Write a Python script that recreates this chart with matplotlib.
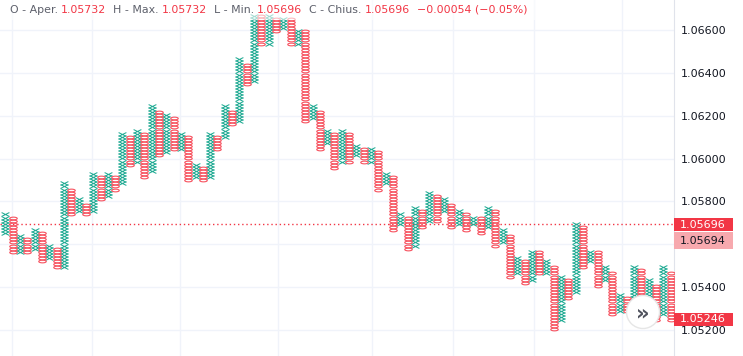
import numpy as np
import matplotlib
matplotlib.use("Agg")
import matplotlib.pyplot as plt
from matplotlib.path import Path
from matplotlib.patches import Rectangle, Ellipse

# point & figure columns, X/O alternating
box = 0.000145
col_kind = "XOXOXOXOXOXOXOXOXOXOXOXOXOXOXOXOXOXOXOXOXOXOXOXOXOXOXOXOXOXOXOXOXOXOXOXOXOXOXOXOXOXOXOXOXOXO"
col_top = [1.0574, 1.0572, 1.0564, 1.0563, 1.0567, 1.0565, 1.0559, 1.0558, 1.0588, 1.0586,
           1.0581, 1.0579, 1.0593, 1.0592, 1.0593, 1.0592, 1.0612, 1.0610, 1.0613, 1.0612,
           1.0624, 1.0622, 1.0620, 1.0619, 1.0612, 1.0610, 1.0597, 1.0596, 1.0612, 1.0610,
           1.0624, 1.0622, 1.0646, 1.0644, 1.0667, 1.0667, 1.0667, 1.0666, 1.0666, 1.0666,
           1.0660, 1.0659, 1.0624, 1.0622, 1.0613, 1.0612, 1.0613, 1.0612, 1.0606, 1.0605,
           1.0605, 1.0603, 1.0593, 1.0592, 1.0574, 1.0573, 1.0577, 1.0576, 1.0584, 1.0583,
           1.0581, 1.0579, 1.0575, 1.0574, 1.0573, 1.0572, 1.0577, 1.0575, 1.0566, 1.0564,
           1.0554, 1.0552, 1.0557, 1.0556, 1.0552, 1.0550, 1.0545, 1.0543, 1.0570, 1.0568,
           1.0557, 1.0556, 1.0549, 1.0547, 1.0536, 1.0535, 1.0550, 1.0548, 1.0543, 1.0541,
           1.0549, 1.0547]
col_bot = [1.0565, 1.0556, 1.0557, 1.0556, 1.0558, 1.0552, 1.0554, 1.0549, 1.0550, 1.0574,
           1.0576, 1.0574, 1.0576, 1.0581, 1.0583, 1.0585, 1.0588, 1.0597, 1.0599, 1.0591,
           1.0594, 1.0601, 1.0603, 1.0604, 1.0605, 1.0590, 1.0591, 1.0590, 1.0591, 1.0605,
           1.0610, 1.0616, 1.0617, 1.0635, 1.0637, 1.0654, 1.0654, 1.0660, 1.0661, 1.0653,
           1.0654, 1.0617, 1.0619, 1.0605, 1.0608, 1.0596, 1.0598, 1.0599, 1.0601, 1.0598,
           1.0599, 1.0586, 1.0589, 1.0567, 1.0570, 1.0558, 1.0559, 1.0568, 1.0571, 1.0571,
           1.0575, 1.0568, 1.0570, 1.0567, 1.0569, 1.0565, 1.0568, 1.0560, 1.0561, 1.0545,
           1.0546, 1.0542, 1.0543, 1.0546, 1.0547, 1.0521, 1.0524, 1.0535, 1.0538, 1.0550,
           1.0552, 1.0541, 1.0543, 1.0527, 1.0529, 1.0529, 1.0530, 1.0530, 1.0531, 1.0525,
           1.0527, 1.0525]

price_ticks = [1.052, 1.054, 1.056, 1.058, 1.060, 1.062, 1.064, 1.066]
grid_cols = [0.9, 11.8, 23.9, 37.3, 50.1, 61.2, 72.3, 84.3]
last_price = 1.05696
header = [("O - Aper.", "lab"), ("1.05732", "val"), ("H - Max.", "lab"), ("1.05732", "val"),
          ("L - Min.", "lab"), ("1.05696", "val"), ("C - Chius.", "lab"), ("1.05696", "val"),
          ("\u22120.00054 (\u22120.05%)", "val")]

up_col = "#22ab94"
dn_col = "#f7525f"
red = "#f23645"

# snap every column to one common box grid
base = 1.0500
xs_x, ys_x, xs_o, ys_o = [], [], [], []
for i, (k, t, b) in enumerate(zip(col_kind, col_top, col_bot)):
    lo = int(round((b - base) / box))
    hi = int(round((t - base) / box))
    lv = base + box * np.arange(lo, hi + 1)
    if k == "X":
        xs_x += [i] * len(lv)
        ys_x += list(lv)
    else:
        xs_o += [i] * len(lv)
        ys_o += list(lv)

x_mark = Path([(-1, -0.5), (1, 0.5), (-1, 0.5), (1, -0.5)],
              [Path.MOVETO, Path.LINETO, Path.MOVETO, Path.LINETO])
th = np.linspace(0, 2 * np.pi, 40)
o_mark = Path(np.column_stack([np.cos(th), 0.36 * np.sin(th)]), closed=True)

W, H = 743, 356
fig = plt.figure(figsize=(W / 100, H / 100), dpi=100)
ax = fig.add_axes([0, 0, 674 / W, 1])

ax.plot(xs_x, ys_x, linestyle="none", marker=x_mark, markersize=5.6,
        markeredgecolor=up_col, markeredgewidth=0.75, zorder=3)
ax.plot(xs_o, ys_o, linestyle="none", marker=o_mark, markersize=5.4,
        markerfacecolor="none", markeredgecolor=dn_col, markeredgewidth=0.8, zorder=3)

ax.axhline(last_price, color=red, linestyle=(0, (1, 2)), linewidth=1, zorder=2)

ax.set_xlim(-0.75, 91.45)
ax.set_ylim(1.05079, 1.0674)
ax.set_xticks(grid_cols)
ax.set_xticklabels([])
ax.set_yticks(price_ticks)
ax.set_yticklabels(["" if abs(v - 1.056) < 1e-9 else f"{v:.5f}" for v in price_ticks])
ax.yaxis.tick_right()
ax.tick_params(axis="y", length=0, pad=5, labelsize=8, labelcolor="#131722")
ax.tick_params(axis="x", length=0)
ax.grid(color="#f0f3fa", linewidth=1)
ax.set_axisbelow(True)
for s in ["top", "left", "bottom"]:
    ax.spines[s].set_visible(False)
ax.spines["right"].set_color("#e0e3eb")

# price labels on the scale
def scale_label(y0, y1, txt, bg, fg):
    fig.patches.append(Rectangle((674 / W, 1 - y1 / H), 59 / W, (y1 - y0) / H,
                                 transform=fig.transFigure, facecolor=bg, edgecolor="none", zorder=5))
    fig.text(680 / W, 1 - (y0 + y1) / 2 / H, txt, color=fg, fontsize=8, va="center", ha="left", zorder=6)

scale_label(218, 231, "1.05696", red, "white")
scale_label(232, 249, "1.05694", "#f7a9ae", "#131722")
scale_label(313, 326, "1.05246", red, "white")

# scroll button
fig.patches.append(Ellipse((643 / W, 1 - 312 / H), 33 / W, 33 / H, transform=fig.transFigure,
                           facecolor="white", edgecolor="#e6e6e6", linewidth=1, zorder=5))
fig.text(643 / W, 1 - 313 / H, "\u00bb", fontsize=15, color="#50535e", ha="center", va="center",
         fontweight="bold", zorder=6)

# header line
fig.patches.append(Rectangle((0, 1 - 20 / H), 535 / W, 20 / H, transform=fig.transFigure,
                             facecolor="white", alpha=0.6, edgecolor="none", zorder=4))
r = fig.canvas.get_renderer()
x = 10
for txt, kind in header:
    t = fig.text(x / W, 1 - 10 / H, txt, fontsize=7.9, va="center", ha="left",
                 color="#5d606b" if kind == "lab" else red, zorder=6)
    bb = t.get_window_extent(renderer=r)
    x = bb.x1 + (3 if kind == "lab" else 7)

fig.savefig("out.png", dpi=100)
